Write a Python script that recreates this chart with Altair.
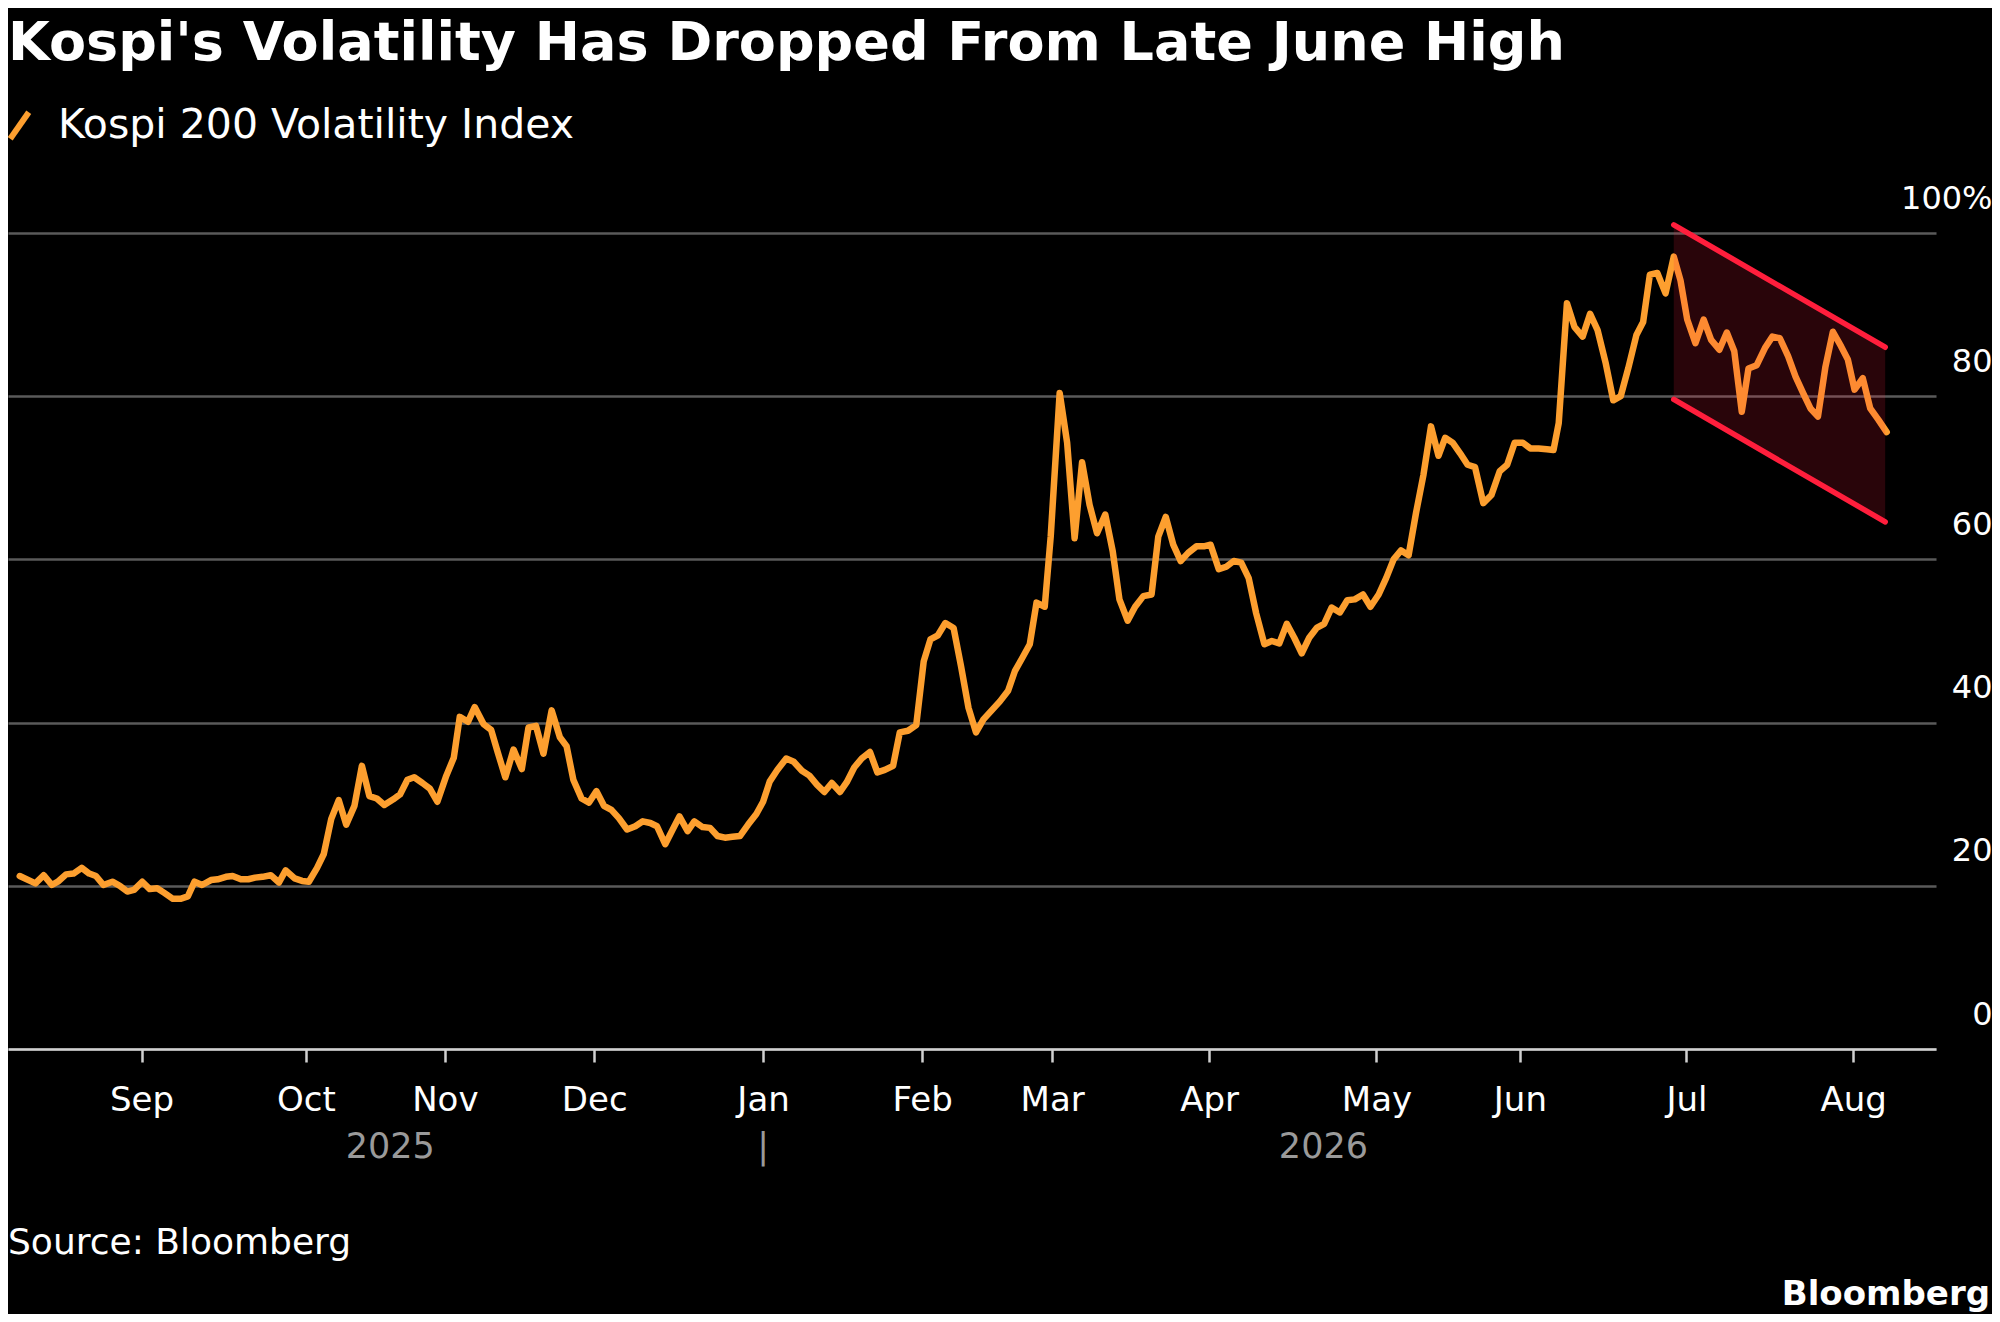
import altair as alt
import pandas as pd

# ---------------- data ----------------
# x = trading-session number since the start of the chart, y = index level
session = [
    0.1, 2.2, 3.3, 4.4, 5.2, 6.3, 7.3, 8.4, 9.4, 10.3, 11.3, 12.5, 13.5, 14.5, 15.4, 16.5, 17.5, 18.5,
    19.5, 20.6, 21.6, 22.6, 23.5, 24.5, 25.7, 26.6, 27.7, 28.6, 29.7, 30.7, 31.6, 32.6, 33.7, 34.8,
    35.7, 36.9, 37.9, 38.8, 39.9, 40.8, 41.8, 42.8, 43.8, 44.9, 45.9, 46.9, 47.9, 48.9, 50.1, 51.0,
    52.0, 52.9, 54.0, 55.0, 56.0, 57.2, 58.2, 59.0, 60.1, 61.0, 62.2, 63.2, 64.1, 65.1, 66.2, 67.3,
    68.2, 69.2, 70.2, 71.3, 72.4,
    73.3, 74.2, 75.3, 76.3, 77.3, 78.3, 79.3, 80.3, 81.4, 82.5, 83.5, 84.5, 85.4, 86.5, 87.5, 88.4,
    89.5, 90.4, 91.5, 92.5, 93.5, 94.5, 95.5, 96.5, 97.6, 98.7, 99.6, 100.5, 101.5, 102.7, 103.7,
    104.8, 105.8, 106.8, 107.8, 108.8, 109.9, 110.8, 111.8, 112.8, 113.9, 114.9, 115.9, 117.0, 117.9,
    119.0, 120.1, 121.1, 122.0, 123.0, 124.0, 125.1, 126.1, 127.1, 128.1, 129.1, 130.2, 131.3, 132.4,
    133.3, 134.4, 135.3, 136.2, 137.3,
    138.1, 139.3, 140.3, 141.3, 142.3, 143.3, 144.3, 145.4, 146.4, 147.3, 148.4, 149.4, 150.5, 151.6,
    152.5, 153.5, 154.5,
    155.5, 156.5, 157.6, 158.6, 159.5, 160.6, 161.6, 162.6, 163.6, 164.6, 165.6, 166.7, 167.7, 168.7,
    169.7, 170.7, 171.7, 172.7, 173.7, 174.7, 175.7, 176.8, 177.8, 178.8, 179.9, 180.9, 182.0, 183.0,
    184.0, 185.0, 186.0, 187.0, 188.0, 189.0, 190.0, 190.9, 191.9, 192.9, 193.9, 194.9, 196.0, 197.1,
    198.2, 199.2, 200.2, 201.3, 202.3, 203.4, 204.5, 205.4,
    206.1, 207.2, 208.2, 209.3, 210.3, 211.3, 212.4, 213.4, 214.4, 215.4, 216.5, 217.4, 218.3, 219.3,
    220.4, 221.5, 222.4, 223.3, 224.4, 225.5, 226.5, 227.6, 228.6, 229.6, 230.6, 231.5, 232.6, 233.7,
    234.7, 235.7, 236.8, 237.8, 238.8, 239.8, 240.8, 241.8, 242.8, 243.9, 244.8, 245.7, 246.8, 247.8,
    248.9, 250.0,
]
vix = [
    21.2, 20.3, 21.3, 20.1, 20.5, 21.4, 21.5, 22.2, 21.5, 21.2, 20.1, 20.5, 20.0, 19.3, 19.5, 20.5, 19.6, 19.7,
    19.1, 18.4, 18.4, 18.7, 20.5, 20.1, 20.7, 20.8, 21.1, 21.2, 20.8, 20.8, 21.0, 21.1, 21.3, 20.4,
    21.9, 20.9, 20.6, 20.5, 22.2, 23.9, 28.2, 30.5, 27.5, 29.8, 34.7, 31.0, 30.7, 29.9, 30.6, 31.2,
    33.0, 33.3, 32.6, 31.9, 30.3, 33.5, 35.7, 40.7, 40.1, 41.9, 39.8, 39.1, 36.3, 33.3, 36.7, 34.3,
    39.4, 39.6, 36.2, 41.5, 38.2,
    37.1, 33.0, 30.7, 30.2, 31.6, 29.8, 29.3, 28.3, 26.9, 27.3, 27.9, 27.7, 27.3, 25.1, 26.9, 28.5,
    26.7, 27.9, 27.2, 27.1, 26.1, 25.9, 26.0, 26.1, 27.5, 28.8, 30.3, 32.8, 34.2, 35.6, 35.2,
    34.1, 33.5, 32.4, 31.5, 32.6, 31.5, 32.7, 34.5, 35.6, 36.4, 33.9, 34.2, 34.7, 38.8,
    39.0, 39.7, 47.5, 50.2, 50.7, 52.2, 51.6, 46.9, 41.8, 38.8, 40.4, 41.5, 42.6, 43.9,
    46.3, 48.1, 49.6, 54.7, 54.2,
    62.8, 80.4, 74.3, 62.6, 71.9, 66.7, 63.2, 65.5, 61.0, 55.1, 52.5, 54.2, 55.5, 55.7,
    62.8, 65.2, 61.8,
    59.8, 60.8, 61.6, 61.6, 61.8, 58.8, 59.1, 59.8, 59.6, 57.7, 53.4, 49.6, 50.0, 49.7,
    52.1, 50.4, 48.5, 50.4, 51.6, 52.1, 54.1, 53.5, 55.0, 55.1, 55.7, 54.2, 55.7, 57.7,
    60.0, 61.1, 60.5, 65.7, 70.4, 76.3, 72.7, 74.9, 74.3, 73.0, 71.6, 71.3, 66.9, 67.9,
    70.8, 71.6, 74.3, 74.3, 73.6, 73.6, 73.5, 73.4,
    76.7, 91.4, 88.5, 87.3, 90.1, 88.1, 84.0, 79.5, 80.0, 83.4, 87.5, 89.1, 94.9, 95.1,
    92.6, 97.1, 94.2, 89.4, 86.5, 89.4, 86.9, 85.7, 87.8, 85.5, 78.1, 83.4, 83.8, 85.9,
    87.3, 87.1, 84.9, 82.4, 80.4, 78.5, 77.5, 83.6, 87.9, 86.1, 84.5, 80.8, 82.2, 78.5,
    77.1, 75.6,
]
series_name = "Kospi 200 Volatility Index"

month_names = ["Sep", "Oct", "Nov", "Dec", "Jan", "Feb", "Mar", "Apr", "May", "Jun", "Jul", "Aug"]
month_pos = [16.4, 38.4, 57.0, 77.0, 99.6, 120.9, 138.3, 159.3, 181.7, 200.9, 223.2, 245.5]

year_text = ["2025", "|", "2026"]
year_pos = [49.7, 99.6, 174.6]

channel_x = [221.5, 249.8]
channel_upper = [101.0, 86.0]
channel_lower = [79.6, 64.6]

y_ticks = [0, 20, 40, 60, 80, 100]

title_text = "Kospi's Volatility Has Dropped From Late June High"
source_text = "Source: Bloomberg"
logo_text = "Bloomberg"

# ---------------- style ----------------
ORANGE = "#fd9f2f"
RED = "#ff1e3c"
FONT = "DejaVu Sans"

df = pd.DataFrame({"session": session, "vix": vix, "series": series_name})
ch = pd.DataFrame({"session": channel_x, "upper": channel_upper, "lower": channel_lower})
yr = pd.DataFrame({"session": year_pos, "text": year_text})

xscale = alt.Scale(domain=[-1.47, 256.6], nice=False, zero=False)
yscale = alt.Scale(domain=[0, 100], nice=False, zero=True)

label_expr = "''"
for n, p in reversed(list(zip(month_names, month_pos))):
    label_expr = f"abs(datum.value - {p}) < 0.01 ? '{n}' : ({label_expr})"

xaxis = alt.Axis(
    values=month_pos, labelExpr=label_expr, title=None, grid=False,
    domain=True, domainColor="#d0d0d0", domainWidth=2.5,
    ticks=True, tickColor="#d0d0d0", tickSize=13, tickWidth=2.5,
    labelColor="white", labelFont=FONT, labelFontSize=34, labelPadding=21,
    labelAngle=0, labelAlign="center", labelBaseline="top",
    labelOverlap=False, labelFlush=False,
)
yaxis = alt.Axis(
    values=y_ticks, orient="right", title=None, grid=True,
    gridColor="#5a5a5a", gridWidth=2.5, domain=False, ticks=False, tickSize=0,
    labelAlign="right", labelPadding=56, labelBaseline="alphabetic", labelOffset=-25,
    labelColor="white", labelFont=FONT, labelFontSize=32,
    labelExpr="datum.value == 100 ? '100%' : datum.label",
)

X = alt.X("session:Q", scale=xscale, axis=xaxis)

line = alt.Chart(df).mark_line(strokeWidth=6.5, strokeJoin="round", strokeCap="round").encode(
    x=X,
    y=alt.Y("vix:Q", scale=yscale, axis=yaxis),
    color=alt.Color(
        "series:N",
        scale=alt.Scale(domain=[series_name], range=[ORANGE]),
        legend=alt.Legend(
            orient="none", legendX=-9, legendY=-128, title=None, padding=0,
            labelFont=FONT, labelFontSize=41, labelColor="white", labelOffset=18, labelLimit=0,
            symbolType="M-0.7,1L0.7,-1", symbolSize=700, symbolStrokeWidth=6,
        ),
    ),
)

shade = alt.Chart(ch).mark_area(fill=RED, fillOpacity=0.16).encode(
    x=X,
    y=alt.Y("lower:Q", scale=yscale, axis=yaxis),
    y2="upper:Q",
)
upper_line = alt.Chart(ch).mark_line(color=RED, strokeWidth=5.5, strokeCap="round").encode(
    x=X,
    y=alt.Y("upper:Q", scale=yscale, axis=yaxis),
)
lower_line = alt.Chart(ch).mark_line(color=RED, strokeWidth=5.5, strokeCap="round").encode(
    x=X,
    y=alt.Y("lower:Q", scale=yscale, axis=yaxis),
)

years = alt.Chart(yr).mark_text(font=FONT, fontSize=35, color="#9a9a9a", baseline="middle", align="center").encode(
    x=X,
    y=alt.value(914),
    text="text:N",
)

title = alt.Chart(pd.DataFrame({"t": [title_text]})).mark_text(
    font=FONT, fontSize=54, fontWeight="bold", color="white", align="left", baseline="alphabetic"
).encode(x=alt.value(0), y=alt.value(-173), text="t:N")

source = alt.Chart(pd.DataFrame({"t": [source_text]})).mark_text(
    font=FONT, fontSize=36, color="white", align="left", baseline="middle"
).encode(x=alt.value(0), y=alt.value(1010), text="t:N")

logo = alt.Chart(pd.DataFrame({"t": [logo_text]})).mark_text(
    font=FONT, fontSize=34, fontWeight="bold", color="white", align="right", baseline="middle"
).encode(x=alt.value(1982), y=alt.value(1062), text="t:N")

chart = alt.layer(line, shade, upper_line, lower_line, years, title, source, logo).properties(
    width=1928, height=816,
    padding={"left": 0, "top": 225, "right": 56, "bottom": 265},
    autosize=alt.AutoSizeParams(type="none"),
    background="black",
).configure_view(stroke=None)

chart.save("out.html", embed_options={"renderer": "svg", "actions": False})
